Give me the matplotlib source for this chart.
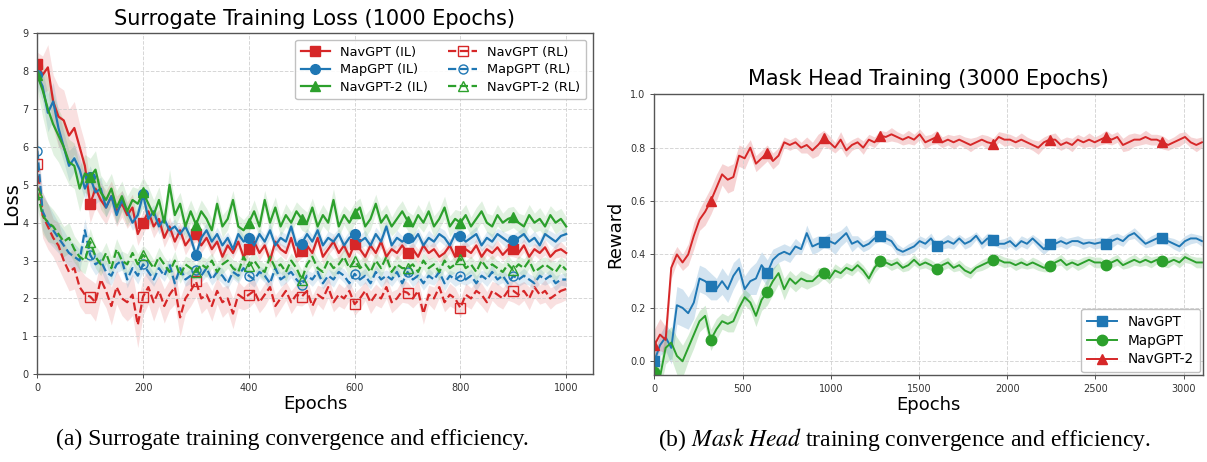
import numpy as np
import matplotlib
matplotlib.use("Agg")
import matplotlib.pyplot as plt

plt.rcParams['mathtext.fontset'] = 'stix'

# ---------------- (a) Surrogate training loss ----------------
epochs_a = np.arange(0, 1001, 10)

nav_il = [8.2, 7.9, 8.1, 7.2, 6.8, 6.7, 6.3, 6.5, 6.0, 5.5, 4.5,
          4.9, 4.6, 4.4, 4.7, 4.3, 4.5, 4.2, 4.4, 3.7, 4.0,
          4.3, 3.9, 4.1, 3.6, 3.9, 3.5, 3.8, 3.4, 3.6, 3.7,
          3.4, 3.6, 3.3, 3.5, 3.1, 3.4, 3.2, 3.5, 3.1, 3.3,
          3.5, 3.2, 3.4, 3.0, 3.5, 3.3, 3.2, 3.6, 3.1, 3.25,
          3.4, 3.2, 3.6, 3.1, 3.3, 3.5, 3.2, 3.4, 3.1, 3.45,
          3.3, 3.1, 3.4, 3.2, 3.5, 3.1, 3.3, 3.2, 3.4, 3.2,
          3.3, 3.1, 3.4, 3.2, 3.3, 3.1, 3.2, 3.4, 3.1, 3.25,
          3.3, 3.2, 3.4, 3.1, 3.3, 3.2, 3.35, 3.15, 3.3, 3.3,
          3.2, 3.4, 3.1, 3.3, 3.2, 3.35, 3.1, 3.25, 3.3, 3.2]
map_il = [7.9, 7.6, 6.9, 7.2, 6.5, 6.0, 5.5, 5.7, 5.4, 4.9, 5.2,
          4.8, 4.9, 4.4, 4.7, 4.2, 4.6, 4.3, 4.0, 4.2, 4.75,
          4.1, 4.3, 3.9, 4.1, 3.8, 3.9, 3.7, 3.9, 3.6, 3.15,
          3.6, 3.8, 3.5, 3.7, 3.4, 3.6, 3.3, 3.7, 3.5, 3.6,
          3.4, 3.7, 3.5, 3.8, 3.4, 3.6, 3.5, 3.9, 3.4, 3.45,
          3.7, 3.5, 3.8, 3.4, 3.6, 3.5, 3.7, 3.4, 3.6, 3.7,
          3.5, 3.6, 3.4, 3.7, 3.5, 3.9, 3.4, 3.6, 3.5, 3.6,
          3.5, 3.7, 3.4, 3.6, 3.5, 3.7, 3.6, 3.4, 3.7, 3.65,
          3.5, 3.6, 3.7, 3.4, 3.6, 3.5, 3.7, 3.6, 3.5, 3.55,
          3.6, 3.7, 3.5, 3.6, 3.4, 3.7, 3.6, 3.5, 3.65, 3.7]
n2_il = [7.9, 7.5, 7.0, 6.6, 6.3, 6.0, 5.6, 5.5, 4.9, 5.3, 5.2,
         5.4, 4.8, 4.6, 4.9, 4.4, 4.7, 4.3, 4.6, 4.5, 4.8,
         4.5, 4.2, 4.6, 4.0, 5.0, 4.2, 4.5, 3.9, 4.3, 3.95,
         4.3, 4.1, 3.8, 4.5, 3.9, 4.1, 4.6, 3.9, 3.8, 4.0,
         4.3, 3.9, 4.6, 4.0, 4.4, 3.9, 4.2, 4.0, 4.3, 4.1,
         4.0, 4.4, 3.9, 4.2, 4.0, 4.6, 3.9, 4.2, 4.0, 4.25,
         4.4, 3.9, 4.1, 4.5, 4.0, 4.2, 3.9, 4.1, 4.3, 4.05,
         3.9, 4.2, 4.0, 4.3, 3.9, 4.1, 4.4, 3.9, 4.1, 4.0,
         4.2, 3.9, 4.1, 4.3, 4.0, 3.9, 4.2, 4.0, 4.1, 4.15,
         4.0, 3.9, 4.2, 4.0, 4.1, 3.9, 4.2, 4.0, 4.1, 3.9]
nav_rl = [5.55, 4.2, 3.9, 3.6, 3.4, 3.0, 2.7, 2.8, 2.3, 2.1, 2.05,
          1.9, 2.5, 2.2, 1.8, 2.3, 2.0, 1.9, 2.1, 1.3, 2.05,
          2.3, 1.9, 2.2, 1.8, 2.1, 2.3, 1.5, 2.0, 2.2, 2.45,
          2.0, 2.1, 1.8, 2.2, 1.9, 2.0, 1.6, 2.1, 2.0, 2.1,
          2.2, 1.9, 2.1, 2.3, 1.8, 2.0, 2.2, 1.9, 2.1, 2.05,
          2.2, 1.8, 2.1, 2.0, 2.3, 1.9, 2.1, 2.0, 2.2, 1.85,
          2.0, 2.2, 1.9, 2.1, 2.0, 2.3, 1.9, 2.0, 2.2, 2.15,
          2.0, 2.2, 1.6, 2.1, 2.0, 2.3, 1.9, 2.1, 2.0, 1.75,
          2.1, 2.0, 2.2, 2.1, 1.9, 2.2, 2.1, 2.0, 2.2, 2.2,
          2.1, 2.2, 2.0, 2.3, 2.1, 2.2, 2.0, 2.1, 2.2, 2.25]
map_rl = [5.9, 4.3, 4.0, 3.8, 3.6, 3.4, 3.2, 3.1, 3.0, 3.8, 3.15,
          2.9, 3.0, 2.7, 2.6, 2.9, 3.0, 2.5, 2.8, 2.6, 2.9,
          2.7, 2.5, 2.8, 2.6, 2.9, 2.4, 2.8, 2.5, 2.6, 2.75,
          2.6, 2.8, 2.5, 2.7, 2.6, 2.4, 2.7, 2.6, 2.8, 2.6,
          2.5, 2.7, 2.6, 2.4, 2.8, 2.5, 2.6, 2.7, 2.5, 2.35,
          2.6, 2.5, 2.7, 2.4, 2.6, 2.5, 2.7, 2.6, 2.4, 2.65,
          2.5, 2.6, 2.4, 2.7, 2.5, 2.6, 2.5, 2.7, 2.4, 2.7,
          2.5, 2.6, 2.4, 2.6, 2.5, 2.7, 2.4, 2.6, 2.5, 2.6,
          2.5, 2.6, 2.4, 2.6, 2.5, 2.7, 2.5, 2.6, 2.4, 2.6,
          2.5, 2.6, 2.5, 2.4, 2.6, 2.5, 2.6, 2.4, 2.5, 2.5]
n2_rl = [4.8, 4.2, 4.0, 3.9, 3.7, 3.5, 3.6, 3.3, 3.1, 3.0, 3.5,
         3.1, 2.9, 3.2, 2.8, 3.3, 3.0, 2.9, 3.2, 2.9, 3.15,
         3.0, 2.8, 3.1, 2.9, 2.7, 3.0, 2.6, 2.9, 2.8, 2.7,
         2.9, 2.8, 3.0, 2.7, 2.9, 3.0, 2.8, 2.7, 3.1, 2.85,
         3.0, 2.8, 2.7, 3.1, 2.8, 2.9, 2.7, 3.0, 2.8, 2.5,
         2.9, 3.1, 2.8, 2.7, 3.0, 2.8, 2.9, 3.1, 2.8, 3.0,
         2.8, 2.9, 2.7, 3.0, 2.8, 3.1, 2.7, 2.9, 2.8, 2.8,
         2.9, 2.7, 3.0, 2.8, 2.9, 2.7, 3.0, 2.8, 2.9, 3.05,
         2.8, 2.9, 2.7, 3.0, 2.8, 2.9, 2.8, 2.7, 2.9, 2.75,
         2.9, 2.8, 3.0, 2.7, 2.8, 2.9, 2.8, 2.7, 2.9, 2.75]

nav_il_sd = [0.3, 0.5, 0.6, 0.7, 0.8, 0.8, 0.7, 0.7, 0.6, 0.6, 0.5,
             0.5, 0.45, 0.45, 0.4, 0.4, 0.35, 0.35, 0.35, 0.3, 0.3,
             0.3, 0.3, 0.25, 0.25, 0.25, 0.25, 0.2, 0.25, 0.2, 0.2,
             0.2, 0.18, 0.2, 0.15, 0.18, 0.2, 0.15, 0.18, 0.2, 0.15,
             0.18, 0.2, 0.15, 0.18, 0.2, 0.15, 0.18, 0.2, 0.15, 0.18,
             0.2, 0.15, 0.18, 0.2, 0.15, 0.18, 0.2, 0.15, 0.18, 0.2,
             0.15, 0.18, 0.2, 0.15, 0.18, 0.2, 0.15, 0.18, 0.2, 0.15,
             0.18, 0.2, 0.15, 0.18, 0.2, 0.15, 0.18, 0.2, 0.15, 0.18,
             0.2, 0.15, 0.18, 0.2, 0.15, 0.18, 0.2, 0.15, 0.18, 0.2,
             0.15, 0.18, 0.2, 0.15, 0.18, 0.2, 0.15, 0.18, 0.2, 0.15]
map_il_sd = [0.3, 0.4, 0.5, 0.5, 0.45, 0.4, 0.4, 0.35, 0.35, 0.3, 0.3,
             0.3, 0.3, 0.25, 0.25, 0.25, 0.25, 0.2, 0.2, 0.2, 0.2,
             0.2, 0.18, 0.2, 0.15, 0.18, 0.2, 0.15, 0.18, 0.2, 0.15,
             0.18, 0.2, 0.15, 0.18, 0.2, 0.15, 0.18, 0.2, 0.15, 0.18,
             0.2, 0.15, 0.18, 0.2, 0.15, 0.18, 0.2, 0.15, 0.18, 0.2,
             0.15, 0.18, 0.2, 0.15, 0.18, 0.2, 0.15, 0.18, 0.2, 0.15,
             0.18, 0.2, 0.15, 0.18, 0.2, 0.15, 0.18, 0.2, 0.15, 0.18,
             0.2, 0.15, 0.18, 0.2, 0.15, 0.18, 0.2, 0.15, 0.18, 0.2,
             0.15, 0.18, 0.2, 0.15, 0.18, 0.2, 0.15, 0.18, 0.2, 0.15,
             0.18, 0.2, 0.15, 0.18, 0.2, 0.15, 0.18, 0.2, 0.15, 0.18]
n2_il_sd = [0.4, 0.7, 0.8, 0.8, 0.7, 0.7, 0.6, 0.6, 0.6, 0.5, 0.5,
            0.5, 0.45, 0.45, 0.4, 0.45, 0.4, 0.4, 0.35, 0.4, 0.4,
            0.45, 0.4, 0.35, 0.35, 0.4, 0.35, 0.3, 0.35, 0.3, 0.3,
            0.3, 0.28, 0.3, 0.25, 0.3, 0.28, 0.25, 0.3, 0.28, 0.25,
            0.3, 0.28, 0.25, 0.3, 0.28, 0.25, 0.3, 0.28, 0.25, 0.3,
            0.28, 0.25, 0.3, 0.28, 0.25, 0.3, 0.28, 0.25, 0.3, 0.28,
            0.25, 0.3, 0.28, 0.25, 0.3, 0.28, 0.25, 0.3, 0.28, 0.25,
            0.3, 0.28, 0.25, 0.3, 0.28, 0.25, 0.3, 0.28, 0.25, 0.3,
            0.28, 0.25, 0.3, 0.28, 0.25, 0.3, 0.28, 0.25, 0.3, 0.28,
            0.25, 0.3, 0.28, 0.25, 0.3, 0.28, 0.25, 0.3, 0.28, 0.25]
nav_rl_sd = [0.5, 0.6, 0.6, 0.5, 0.6, 0.5, 0.5, 0.55, 0.5, 0.5, 0.45,
             0.5, 0.5, 0.45, 0.5, 0.45, 0.45, 0.5, 0.55, 0.6, 0.5,
             0.45, 0.5, 0.4, 0.45, 0.4, 0.45, 0.5, 0.4, 0.4, 0.4,
             0.4, 0.35, 0.4, 0.35, 0.4, 0.35, 0.4, 0.35, 0.3, 0.35,
             0.3, 0.28, 0.3, 0.25, 0.3, 0.28, 0.25, 0.3, 0.28, 0.25,
             0.3, 0.28, 0.25, 0.3, 0.28, 0.25, 0.3, 0.28, 0.25, 0.3,
             0.28, 0.25, 0.3, 0.28, 0.25, 0.3, 0.28, 0.25, 0.3, 0.28,
             0.25, 0.3, 0.28, 0.25, 0.3, 0.28, 0.25, 0.3, 0.28, 0.25,
             0.3, 0.28, 0.25, 0.3, 0.28, 0.25, 0.3, 0.28, 0.25, 0.3,
             0.28, 0.25, 0.3, 0.28, 0.25, 0.3, 0.28, 0.25, 0.3, 0.28]
map_rl_sd = [0.4, 0.5, 0.5, 0.45, 0.4, 0.4, 0.35, 0.35, 0.3, 0.3, 0.3,
             0.28, 0.25, 0.28, 0.25, 0.22, 0.25, 0.22, 0.2, 0.22, 0.2,
             0.2, 0.18, 0.2, 0.15, 0.18, 0.2, 0.15, 0.18, 0.2, 0.15,
             0.18, 0.2, 0.15, 0.18, 0.2, 0.15, 0.18, 0.2, 0.15, 0.18,
             0.2, 0.15, 0.18, 0.2, 0.15, 0.18, 0.2, 0.15, 0.18, 0.2,
             0.15, 0.18, 0.2, 0.15, 0.18, 0.2, 0.15, 0.18, 0.2, 0.15,
             0.18, 0.2, 0.15, 0.18, 0.2, 0.15, 0.18, 0.2, 0.15, 0.18,
             0.2, 0.15, 0.18, 0.2, 0.15, 0.18, 0.2, 0.15, 0.18, 0.2,
             0.15, 0.18, 0.2, 0.15, 0.18, 0.2, 0.15, 0.18, 0.2, 0.15,
             0.18, 0.2, 0.15, 0.18, 0.2, 0.15, 0.18, 0.2, 0.15, 0.18]
n2_rl_sd = [0.4, 0.5, 0.5, 0.45, 0.45, 0.4, 0.4, 0.35, 0.35, 0.35, 0.35,
            0.3, 0.3, 0.28, 0.3, 0.28, 0.25, 0.28, 0.25, 0.28, 0.25,
            0.25, 0.22, 0.25, 0.2, 0.22, 0.25, 0.2, 0.22, 0.25, 0.2,
            0.22, 0.25, 0.2, 0.22, 0.25, 0.2, 0.22, 0.25, 0.2, 0.22,
            0.25, 0.2, 0.22, 0.25, 0.2, 0.22, 0.25, 0.2, 0.22, 0.25,
            0.2, 0.22, 0.25, 0.2, 0.22, 0.25, 0.2, 0.22, 0.25, 0.2,
            0.22, 0.25, 0.2, 0.22, 0.25, 0.2, 0.22, 0.25, 0.2, 0.22,
            0.25, 0.2, 0.22, 0.25, 0.2, 0.22, 0.25, 0.2, 0.22, 0.25,
            0.2, 0.22, 0.25, 0.2, 0.22, 0.25, 0.2, 0.22, 0.25, 0.2,
            0.22, 0.25, 0.2, 0.22, 0.25, 0.2, 0.22, 0.25, 0.2, 0.22]

labels_a = ["NavGPT (IL)", "MapGPT (IL)", "NavGPT-2 (IL)",
            "NavGPT (RL)", "MapGPT (RL)", "NavGPT-2 (RL)"]

# ---------------- (b) Mask head training ----------------
epochs_b = np.arange(0, 3105, 32)

nav_b = [0.00, 0.06, 0.09, 0.05, 0.21, 0.20, 0.18, 0.22, 0.31, 0.30,
         0.28, 0.27, 0.30, 0.27, 0.32, 0.35, 0.27, 0.30, 0.31, 0.36,
         0.33, 0.38, 0.40, 0.41, 0.40, 0.43, 0.42, 0.48, 0.43, 0.44,
         0.445, 0.45, 0.44, 0.46, 0.48, 0.44, 0.45, 0.43, 0.44, 0.46,
         0.47, 0.46, 0.45, 0.42, 0.41, 0.42, 0.43, 0.45, 0.44, 0.46,
         0.43, 0.44, 0.45, 0.44, 0.46, 0.44, 0.45, 0.47, 0.44, 0.46,
         0.455, 0.44, 0.44, 0.45, 0.43, 0.45, 0.44, 0.46, 0.44, 0.42,
         0.44, 0.44, 0.45, 0.44, 0.45, 0.45, 0.44, 0.445, 0.44, 0.445,
         0.44, 0.45, 0.46, 0.45, 0.47, 0.48, 0.46, 0.44, 0.45, 0.46,
         0.46, 0.45, 0.44, 0.43, 0.45, 0.46, 0.46, 0.45]
map_b = [-0.04, -0.06, 0.05, 0.07, 0.02, 0.00, 0.05, 0.10, 0.15, 0.17,
         0.08, 0.12, 0.15, 0.14, 0.15, 0.20, 0.24, 0.22, 0.17, 0.23,
         0.26, 0.30, 0.33, 0.27, 0.31, 0.29, 0.31, 0.30, 0.30, 0.32,
         0.33, 0.31, 0.34, 0.33, 0.35, 0.34, 0.36, 0.34, 0.31, 0.35,
         0.375, 0.37, 0.36, 0.37, 0.35, 0.36, 0.38, 0.36, 0.37, 0.36,
         0.345, 0.36, 0.37, 0.35, 0.36, 0.34, 0.33, 0.35, 0.36, 0.37,
         0.38, 0.38, 0.37, 0.37, 0.36, 0.37, 0.36, 0.37, 0.36, 0.35,
         0.355, 0.37, 0.38, 0.36, 0.37, 0.36, 0.37, 0.38, 0.37, 0.37,
         0.36, 0.37, 0.38, 0.36, 0.37, 0.38, 0.37, 0.38, 0.37, 0.38,
         0.375, 0.37, 0.38, 0.37, 0.39, 0.38, 0.37, 0.37]
n2_b = [0.06, 0.10, 0.08, 0.35, 0.40, 0.37, 0.40, 0.47, 0.53, 0.56,
        0.60, 0.65, 0.70, 0.68, 0.69, 0.77, 0.76, 0.80, 0.74, 0.76,
        0.78, 0.75, 0.77, 0.82, 0.81, 0.82, 0.80, 0.81, 0.79, 0.81,
        0.835, 0.82, 0.80, 0.83, 0.79, 0.81, 0.82, 0.80, 0.83, 0.82,
        0.845, 0.84, 0.85, 0.84, 0.83, 0.84, 0.83, 0.85, 0.82, 0.83,
        0.84, 0.82, 0.83, 0.82, 0.83, 0.82, 0.81, 0.82, 0.83, 0.82,
        0.815, 0.84, 0.83, 0.83, 0.82, 0.83, 0.82, 0.81, 0.80, 0.82,
        0.83, 0.83, 0.81, 0.82, 0.81, 0.83, 0.82, 0.83, 0.82, 0.83,
        0.84, 0.83, 0.84, 0.81, 0.82, 0.83, 0.83, 0.84, 0.83, 0.83,
        0.82, 0.81, 0.82, 0.83, 0.84, 0.82, 0.81, 0.82]

nav_b_sd = [0.03, 0.04, 0.05, 0.06, 0.07, 0.07, 0.06, 0.06, 0.05, 0.05,
            0.05, 0.04, 0.05, 0.05, 0.05, 0.04, 0.05, 0.05, 0.06, 0.05,
            0.05, 0.04, 0.03, 0.03, 0.03, 0.03, 0.02, 0.03, 0.03, 0.03,
            0.02, 0.03, 0.04, 0.03, 0.03, 0.03, 0.02, 0.02, 0.02, 0.02,
            0.02, 0.02, 0.02, 0.02, 0.015, 0.02, 0.02, 0.02, 0.02, 0.02,
            0.015, 0.02, 0.025, 0.02, 0.015, 0.02, 0.02, 0.015, 0.02, 0.02,
            0.02, 0.015, 0.02, 0.02, 0.015, 0.02, 0.02, 0.015, 0.02, 0.02,
            0.02, 0.015, 0.02, 0.02, 0.015, 0.02, 0.02, 0.015, 0.02, 0.02,
            0.02, 0.025, 0.02, 0.02, 0.015, 0.02, 0.02, 0.015, 0.02, 0.02,
            0.02, 0.015, 0.02, 0.02, 0.02, 0.02, 0.015, 0.02]
map_b_sd = [0.03, 0.05, 0.06, 0.06, 0.07, 0.06, 0.05, 0.05, 0.04, 0.04,
            0.04, 0.04, 0.03, 0.03, 0.04, 0.04, 0.03, 0.03, 0.04, 0.04,
            0.05, 0.05, 0.04, 0.04, 0.03, 0.03, 0.03, 0.03, 0.02, 0.03,
            0.02, 0.02, 0.025, 0.02, 0.02, 0.02, 0.02, 0.02, 0.02, 0.02,
            0.02, 0.015, 0.02, 0.02, 0.015, 0.02, 0.02, 0.015, 0.02, 0.02,
            0.02, 0.02, 0.02, 0.015, 0.02, 0.02, 0.02, 0.015, 0.02, 0.02,
            0.015, 0.02, 0.02, 0.015, 0.02, 0.02, 0.015, 0.02, 0.02, 0.015,
            0.02, 0.015, 0.02, 0.02, 0.015, 0.02, 0.02, 0.015, 0.02, 0.02,
            0.015, 0.02, 0.02, 0.015, 0.02, 0.02, 0.015, 0.02, 0.02, 0.015,
            0.02, 0.02, 0.015, 0.02, 0.02, 0.015, 0.02, 0.02]
n2_b_sd = [0.06, 0.06, 0.05, 0.04, 0.03, 0.03, 0.04, 0.05, 0.04, 0.05,
           0.05, 0.05, 0.04, 0.05, 0.05, 0.04, 0.04, 0.03, 0.03, 0.03,
           0.03, 0.03, 0.03, 0.02, 0.02, 0.02, 0.02, 0.03, 0.03, 0.04,
           0.03, 0.025, 0.02, 0.03, 0.025, 0.02, 0.02, 0.025, 0.02, 0.02,
           0.02, 0.02, 0.025, 0.02, 0.02, 0.025, 0.02, 0.02, 0.025, 0.02,
           0.025, 0.02, 0.02, 0.025, 0.02, 0.02, 0.025, 0.02, 0.02, 0.025,
           0.02, 0.02, 0.025, 0.02, 0.02, 0.025, 0.02, 0.02, 0.025, 0.02,
           0.02, 0.025, 0.02, 0.02, 0.025, 0.02, 0.02, 0.025, 0.02, 0.02,
           0.025, 0.02, 0.02, 0.025, 0.03, 0.025, 0.02, 0.025, 0.02, 0.02,
           0.025, 0.02, 0.02, 0.025, 0.02, 0.02, 0.025, 0.02]

labels_b = ["NavGPT", "MapGPT", "NavGPT-2"]

RED, BLUE, GREEN = "#d62728", "#1f77b4", "#2ca02c"

fig = plt.figure(figsize=(12.07, 4.62), dpi=100)
ax1 = fig.add_axes([0.0309, 0.190, 0.4601, 0.738])
ax2 = fig.add_axes([0.5421, 0.188, 0.4546, 0.608])

def style(ax):
    ax.grid(True, linestyle='--', color='#cccccc', linewidth=0.7, alpha=0.8)
    ax.tick_params(labelsize=7, colors='#333333', length=3, width=0.6)
    for s in ax.spines.values():
        s.set_color('#555555')
        s.set_linewidth(1.0)

# (a)
mk_a = list(range(0, 100, 10))
series_a = [
    (nav_il, nav_il_sd, RED, 's', '-', True),
    (map_il, map_il_sd, BLUE, 'o', '-', True),
    (n2_il, n2_il_sd, GREEN, '^', '-', True),
    (nav_rl, nav_rl_sd, RED, 's', '--', False),
    (map_rl, map_rl_sd, BLUE, 'o', '--', False),
    (n2_rl, n2_rl_sd, GREEN, '^', '--', False),
]
for (vals, sd, c, m, ls, filled), lab in zip(series_a, labels_a):
    y = np.array(vals)
    s = np.array(sd)
    ax1.fill_between(epochs_a, y - s, y + s, color=c, alpha=0.14, linewidth=0)
    ax1.plot(epochs_a, y, color=c, linestyle=ls, linewidth=1.6, marker=m,
             markevery=mk_a, markersize=7 if filled else 6.5,
             markerfacecolor=c if filled else 'none', markeredgecolor=c,
             markeredgewidth=1.0, label=lab)
ax1.set_xlim(0, 1050)
ax1.set_ylim(0, 9)
ax1.set_xticks([0, 200, 400, 600, 800, 1000])
ax1.set_yticks(range(0, 10))
style(ax1)
ax1.set_title("Surrogate Training Loss (1000 Epochs)", fontsize=15, pad=6)
ax1.set_xlabel("Epochs", fontsize=13, labelpad=1)
ax1.set_ylabel("Loss", fontsize=14, labelpad=1)
ax1.legend(loc='upper right', ncol=2, fontsize=9.3, handlelength=2.2,
           columnspacing=1.6, borderpad=0.45, labelspacing=0.35,
           framealpha=0.9, edgecolor='#bbbbbb')

# (b)
mk_b = list(range(0, 98, 10))
series_b = [
    (nav_b, nav_b_sd, BLUE, 's'),
    (map_b, map_b_sd, GREEN, 'o'),
    (n2_b, n2_b_sd, RED, '^'),
]
for (vals, sd, c, m), lab in zip(series_b, labels_b):
    y = np.array(vals)
    s = np.array(sd)
    ax2.fill_between(epochs_b, y - s, y + s, color=c, alpha=0.2, linewidth=0)
    ax2.plot(epochs_b, y, color=c, linewidth=1.4, marker=m, markevery=mk_b,
             markersize=7.5, label=lab)
ax2.set_xlim(0, 3110)
ax2.set_ylim(-0.052, 1.0)
ax2.set_xticks([0, 500, 1000, 1500, 2000, 2500, 3000])
ax2.set_yticks([0.0, 0.2, 0.4, 0.6, 0.8, 1.0])
style(ax2)
ax2.set_title("Mask Head Training (3000 Epochs)", fontsize=15, pad=7)
ax2.set_xlabel("Epochs", fontsize=13, labelpad=1)
ax2.set_ylabel("Reward", fontsize=13, labelpad=4)
ax2.legend(loc='lower right', fontsize=9.8, handlelength=2.2,
           borderpad=0.45, labelspacing=0.35, borderaxespad=0.2,
           framealpha=0.9, edgecolor='#bbbbbb')

# captions
fig.text(0.242, 0.048, "(a) Surrogate training convergence and efficiency.",
         ha='center', va='center', fontsize=17, family='Liberation Serif')
fig.text(0.749, 0.048, r"(b) $\mathit{Mask\ Head}$ training convergence and efficiency.",
         ha='center', va='center', fontsize=17, family='Liberation Serif')

fig.savefig("out.png", dpi=100)
